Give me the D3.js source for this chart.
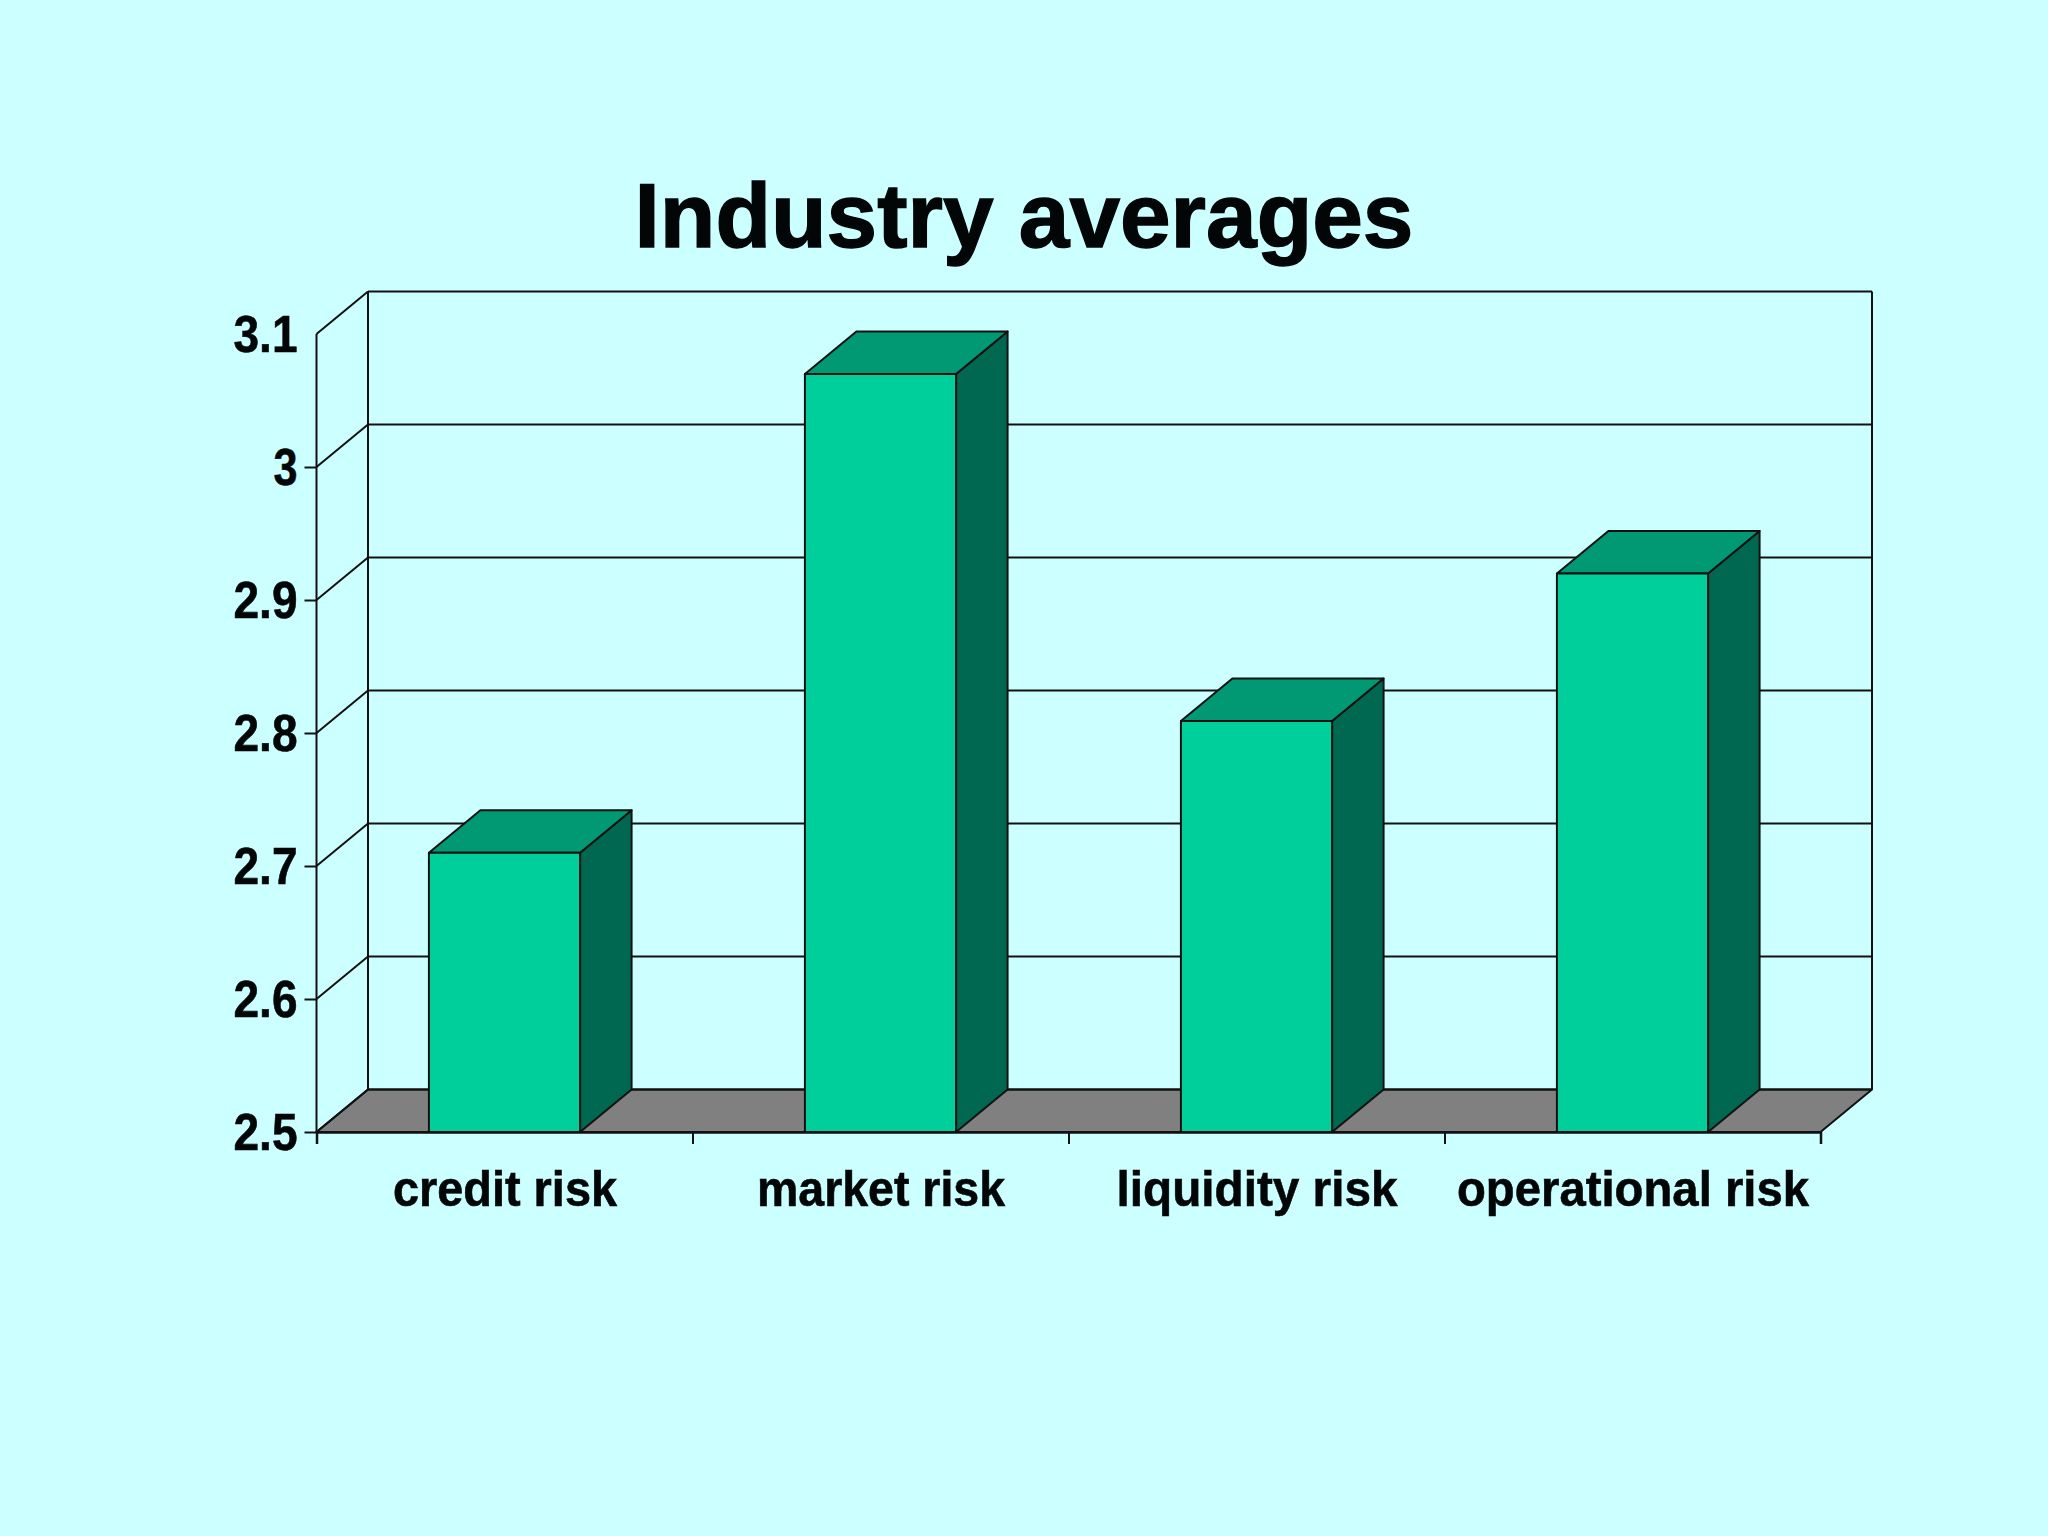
<!DOCTYPE html>
<html>
<head>
<meta charset="utf-8">
<script src="https://cdn.jsdelivr.net/npm/d3@7"></script>
<style>
  html, body { margin: 0; padding: 0; background: #ccffff; }
  svg { display: block; }
  text { font-family: "Liberation Sans", Arial, sans-serif; font-weight: bold; fill: #020606; stroke: #020606; stroke-width: 0.6px; }
</style>
</head>
<body>
<div id="chart"></div>
<script>
var categories = ["credit risk", "market risk", "liquidity risk", "operational risk"];
var values = [2.71, 3.07, 2.809, 2.92];
var yTicks = [2.5, 2.6, 2.7, 2.8, 2.9, 3, 3.1];
var title = "Industry averages";

var width = 2048, height = 1536;
var left = 316.5, right = 1820.5, bottom = 1132, top3d = 334;
// offset of the back wall from the front plane
var dx = 51.5, dy = 42.5;
var lineColor = "#111";

var svg = d3.select("#chart").append("svg")
    .attr("width", width)
    .attr("height", height);

var x = d3.scaleBand()
    .domain(categories)
    .range([left, right])
    .paddingInner(0.598)
    .paddingOuter(0.299);

var y = d3.scaleLinear()
    .domain([2.5, 3.1])
    .range([bottom, top3d]);

function poly(points, fill) {
  return svg.append("polygon")
    .attr("points", points.map(function(p) { return p.join(","); }).join(" "))
    .attr("fill", fill)
    .attr("stroke", lineColor)
    .attr("stroke-width", 2)
    .attr("stroke-linejoin", "round");
}

function line(x1, y1, x2, y2) {
  svg.append("line")
    .attr("x1", x1).attr("y1", y1)
    .attr("x2", x2).attr("y2", y2)
    .attr("stroke", lineColor)
    .attr("stroke-width", 2);
}

// floor
poly([[left, bottom], [left + dx, bottom - dy], [right + dx, bottom - dy], [right, bottom]], "#808080");

// walls and gridlines
yTicks.forEach(function(t) {
  line(left, y(t), left + dx, y(t) - dy);
  line(left + dx, y(t) - dy, right + dx, y(t) - dy);
});
line(left, y(3.1), left, bottom);
line(left + dx, y(3.1) - dy, left + dx, bottom - dy);
line(right + dx, y(3.1) - dy, right + dx, bottom - dy);

// bars
categories.forEach(function(c, i) {
  var x0 = x(c), x1 = x(c) + x.bandwidth(), yv = y(values[i]);
  poly([[x1, bottom], [x1 + dx, bottom - dy], [x1 + dx, yv - dy], [x1, yv]], "#006850");
  poly([[x0, yv], [x0 + dx, yv - dy], [x1 + dx, yv - dy], [x1, yv]], "#009973");
  poly([[x0, bottom], [x0, yv], [x1, yv], [x1, bottom]], "#00cf9b");
});

// y axis
var yAxis = svg.append("g")
    .attr("transform", "translate(" + left + ",0)")
    .call(d3.axisLeft(y).tickValues(yTicks).tickSize(12).tickPadding(7).tickFormat(d3.format("~g")));
yAxis.select(".domain").remove();
yAxis.selectAll("line").attr("stroke", lineColor).attr("stroke-width", 2)
    .filter(function(d) { return d === 3.1; }).remove();
yAxis.selectAll("text")
    .style("font-size", "51px")
    .attr("font-family", null)
    .attr("dy", "0.34em")
    .attr("textLength", function(d) { return d === 3 ? 24 : 64; })
    .attr("lengthAdjust", "spacingAndGlyphs");

// x axis: ticks sit on the category edges
var xEdges = d3.scaleLinear().domain([0, 4]).range([left, right]);
var xTicks = svg.append("g")
    .attr("transform", "translate(0," + bottom + ")")
    .call(d3.axisBottom(xEdges).tickValues([0, 1, 2, 3, 4]).tickSize(12).tickFormat(""));
xTicks.select(".domain").attr("stroke", lineColor).attr("stroke-width", 2.5);
xTicks.selectAll("line").attr("stroke", lineColor).attr("stroke-width", 2);

var xLabels = svg.append("g")
    .attr("transform", "translate(0.5," + bottom + ")")
    .call(d3.axisBottom(x).tickSize(0).tickPadding(38));
xLabels.select(".domain").remove();
xLabels.selectAll("text")
    .style("font-size", "50px")
    .attr("font-family", null)
    .attr("textLength", function(d) { return {"credit risk": 224, "market risk": 248, "liquidity risk": 281, "operational risk": 352}[d]; })
    .attr("lengthAdjust", "spacingAndGlyphs");

svg.append("text")
    .attr("x", 1024)
    .attr("y", 247)
    .attr("text-anchor", "middle")
    .style("font-size", "91px")
    .style("stroke-width", "1.4px")
    .text(title);
</script>
</body>
</html>
